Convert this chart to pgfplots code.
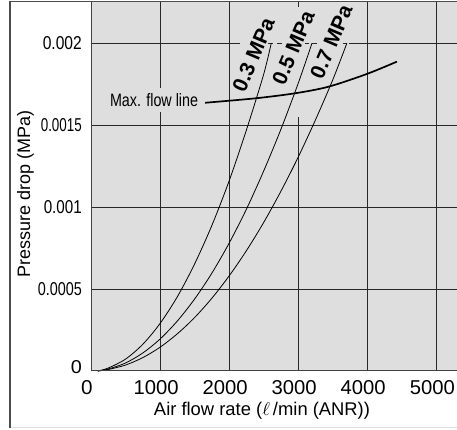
\documentclass[border=0pt]{standalone}
\usepackage{fontspec}
\setmainfont{Liberation Sans}
\usepackage{pgfplots}
\pgfplotsset{compat=1.18}
\definecolor{bgc}{RGB}{222,222,222}
\definecolor{gridc}{RGB}{40,40,40}
% text boxes forced to the sizes measured on the reference
\newcommand{\rb}[3]{\resizebox{#1}{#2}{#3}}

\begin{document}
\begin{tikzpicture}
\begin{axis}[
    at={(0pt,0pt)}, anchor=south west,
    scale only axis, width=366pt, height=369pt,
    xmin=0, xmax=5300, ymin=0, ymax=0.002252,
    axis line style={draw=none},
    axis background/.style={fill=bgc},
    xtick={1000,2000,4000,5000},
    xticklabels={\rb{45pt}{14pt}{1000},\rb{45pt}{14pt}{2000},\rb{45pt}{14pt}{4000},\rb{45pt}{14pt}{5000}},
    extra x ticks={0,3000},
    extra x tick labels={\rb{11.5pt}{14pt}{0},\rb{45pt}{14pt}{3000}},
    ytick={0.0005,0.001,0.0015},
    yticklabels={\rb{44pt}{13pt}{0.0005},\rb{38pt}{13pt}{0.001},\rb{41pt}{13pt}{0.0015}},
    extra y ticks={0,0.002},
    extra y tick labels={\raisebox{7pt}{\rb{11pt}{13pt}{0}},\rb{39pt}{13pt}{0.002}},
    extra tick style={grid=none},
    scaled y ticks=false, scaled x ticks=false,
    grid=major, grid style={gridc, line width=0.9pt},
    major tick length=0pt,
    xticklabel style={anchor=north, inner sep=0pt, yshift=-9pt, xshift=-4pt},
    yticklabel style={anchor=east, inner sep=0pt, xshift=-9pt},
    clip=false,
  ]
  % grid pieces broken by the labels
  \draw[gridc, line width=0.9pt] (axis cs:0,0.002) -- (axis cs:2159,0.002);
  \draw[gridc, line width=0.9pt] (axis cs:2333,0.002) -- (axis cs:2377,0.002);
  \draw[gridc, line width=0.9pt] (axis cs:2565,0.002) -- (axis cs:2638,0.002);
  \draw[gridc, line width=0.9pt] (axis cs:2696,0.002) -- (axis cs:2768,0.002);
  \draw[gridc, line width=0.9pt] (axis cs:3101,0.002) -- (axis cs:3159,0.002);
  \draw[gridc, line width=0.9pt] (axis cs:3203,0.002) -- (axis cs:3275,0.002);
  \draw[gridc, line width=0.9pt] (axis cs:3652,0.002) -- (axis cs:3710,0.002);
  \draw[gridc, line width=0.9pt] (axis cs:3739,0.002) -- (axis cs:5300,0.002);
  \draw[gridc, line width=0.9pt] (axis cs:3000,0) -- (axis cs:3000,0.00155);
  \draw[gridc, line width=0.9pt] (axis cs:3000,0.002222) -- (axis cs:3000,0.002252);

  % 0.3 MPa
  \addplot[black, line width=0.8pt, smooth] coordinates {
    (100,0) (250,0.0000181) (500,0.0000725) (750,0.000163) (1000,0.00029)
    (1250,0.000453) (1500,0.000653) (1750,0.000888) (2000,0.00116)
    (2250,0.00147) (2500,0.00181) (2610,0.002)
  };
  % 0.5 MPa
  \addplot[black, line width=0.8pt, smooth] coordinates {
    (100,0) (250,0.0000122) (500,0.0000488) (750,0.00011) (1000,0.000195)
    (1250,0.000305) (1500,0.000439) (1750,0.000597) (2000,0.00078)
    (2250,0.000987) (2500,0.00122) (2750,0.001475) (3000,0.001755) (3200,0.002)
  };
  % 0.7 MPa
  \addplot[black, line width=0.8pt, smooth] coordinates {
    (100,0) (250,0.0000091) (500,0.0000363) (750,0.0000816) (1000,0.000145)
    (1250,0.000227) (1500,0.000326) (1750,0.000444) (2000,0.00058)
    (2250,0.000734) (2500,0.000906) (2750,0.001097) (3000,0.001305)
    (3250,0.001532) (3500,0.001776) (3705,0.002)
  };
  % max. flow line
  \addplot[black, line width=1.7pt, smooth] coordinates {
    (1652,0.001637) (2377,0.001664) (2957,0.001695) (3439,0.001735)
    (3996,0.001813) (4430,0.001888)
  };

  \node[fill=bgc, inner xsep=2pt, inner ysep=5pt]
    at (axis cs:913,0.001654) {\rb{88pt}{13pt}{Max. flow line}};
  \coordinate (l3) at (axis cs:2352,0.001929);
  \coordinate (l5) at (axis cs:2928,0.001974);
  \coordinate (l7) at (axis cs:3478,0.002011);
\end{axis}

\node[rotate=67, inner sep=0pt] at (l3) {\rb{78pt}{!}{\bfseries 0.3 MPa}};
\node[rotate=67, inner sep=0pt] at (l5) {\rb{78pt}{!}{\bfseries 0.5 MPa}};
\node[rotate=67, inner sep=0pt] at (l7) {\rb{78pt}{!}{\bfseries 0.7 MPa}};

% plot border and outer frame
\draw[black!75, line width=1pt] (0pt,369pt) -- (0pt,0pt) -- (366pt,0pt);
\draw[black!70, line width=1.6pt] (-81pt,-57pt) -- (-81pt,369.5pt) -- (366pt,369.5pt);
\draw[black!12, line width=1pt] (-80pt,-57pt) -- (366pt,-57pt);

\node at (171pt,-40pt) {\rb{216pt}{!}{Air flow rate ($\ell$\,/min (ANR))}};
\node[rotate=90] at (-65.5pt,177.5pt) {\rb{167pt}{!}{Pressure drop (MPa)}};

\pgfresetboundingbox
\useasboundingbox (-91pt,-59pt) rectangle (366pt,371pt);
\end{tikzpicture}
\end{document}
